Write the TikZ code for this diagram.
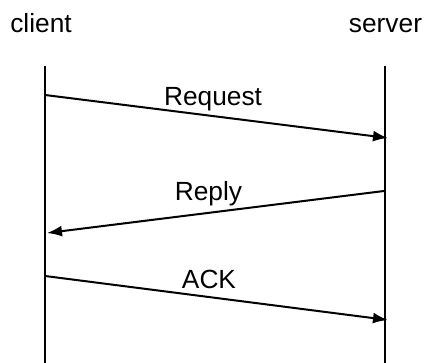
\documentclass[tikz,border=0pt]{standalone}
\usepackage{fontspec}
\setmainfont{Liberation Sans}
\usetikzlibrary{arrows.meta}
\begin{document}
\begin{tikzpicture}[x=1pt,y=-1pt,
  lbl/.style={anchor=base,inner sep=0pt,font=\fontsize{26.3}{31}\selectfont},
  life/.style={line width=2pt},
  msg/.style={line width=2pt,-{Latex[length=15pt,width=11pt]}}]
\useasboundingbox (0,0) rectangle (426,363);
\node[lbl] (client) at (41,33) {client};
\node[lbl] (server) at (385.5,33) {server};
\coordinate (ctop) at (45,66);
\coordinate (cbot) at (45,363);
\coordinate (stop) at (385,66);
\coordinate (sbot) at (385,363);
\draw[life] (ctop) -- (cbot);
\draw[life] (stop) -- (sbot);
\coordinate (r1a) at (45,95);
\coordinate (r1b) at (388,138);
\coordinate (r2a) at (384,191);
\coordinate (r2b) at (47,233);
\coordinate (r3a) at (45,276);
\coordinate (r3b) at (388,320);
\draw[msg] (r1a) -- (r1b);
\draw[msg] (r2a) -- (r2b);
\draw[msg] (r3a) -- (r3b);
\node[lbl] (req) at (213,106) {Request};
\node[lbl] (rep) at (208.5,201) {Reply};
\node[lbl] (ack) at (209,289) {ACK};
\end{tikzpicture}
\end{document}
